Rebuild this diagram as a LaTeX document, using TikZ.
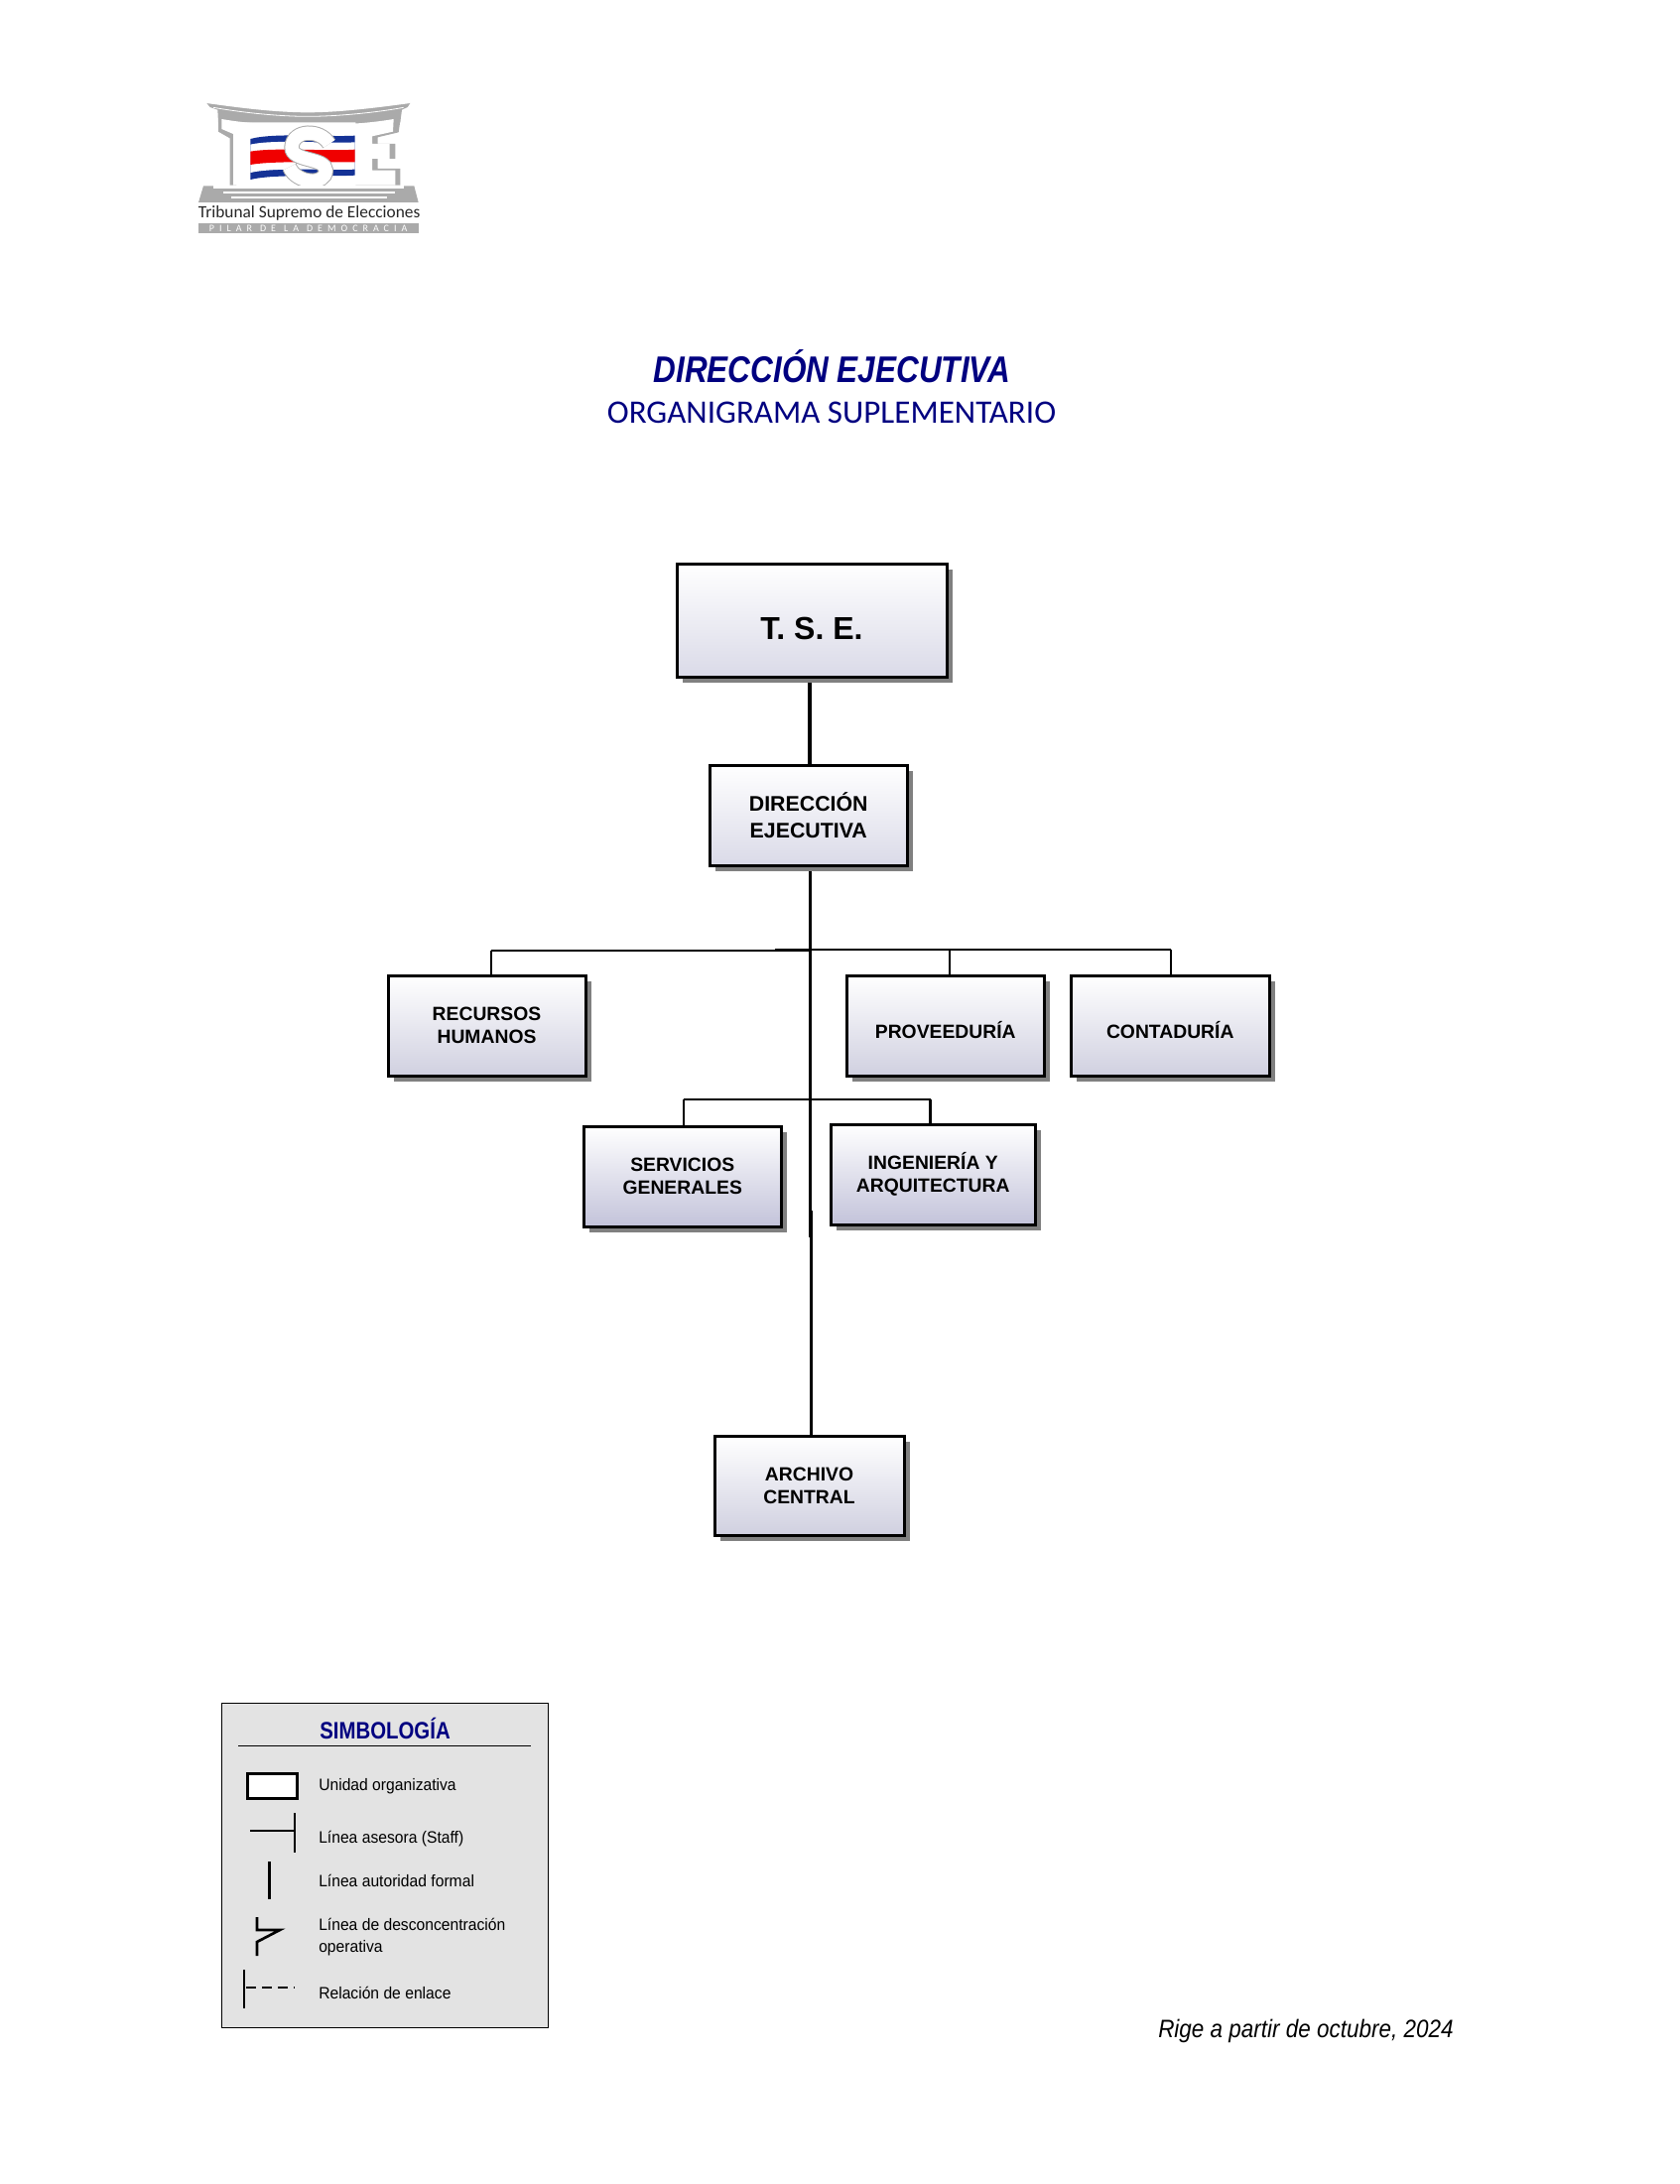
\documentclass[tikz,border=0pt]{standalone}
\usepackage{fontspec}
\setmainfont{Liberation Sans}
\newfontfamily\calfont{Carlito}
\usetikzlibrary{shadows,backgrounds}
\definecolor{titleblue}{RGB}{0,0,128}
\definecolor{legendgray}{RGB}{227,227,227}
\definecolor{shadowgray}{RGB}{128,128,128}
\definecolor{logogray}{RGB}{170,170,170}
\definecolor{flagblue}{RGB}{20,50,150}
\definecolor{flagred}{RGB}{240,0,0}
\definecolor{bottoma}{RGB}{218,218,232}
\definecolor{bottomb}{RGB}{208,208,224}
\definecolor{bottomc}{RGB}{195,195,218}
\tikzset{
  unitbox/.style={draw=black,line width=2.25pt,rectangle,inner sep=0pt,align=center,
    font=\bfseries\fontsize{14.5}{17}\selectfont,top color=white,
    general shadow={fill=shadowgray,shadow xshift=4.4pt,shadow yshift=-4.4pt}},
  conn/.style={draw=black,line width=2.2pt},
  thinconn/.style={draw=black,line width=1.8pt},
  legendtext/.style={anchor=west,inner sep=0pt,font=\fontsize{12.5}{16}\selectfont,align=left,xscale=0.94},
  legendsym/.style={draw=black,line width=2pt},
}
% \orgunit{name}{left}{top}{right}{bottom}{bottom colour}{extra}{text}
\newcommand{\orgunit}[8]{%
  \node[unitbox,bottom color=#6,minimum width={(#4-#2)*0.75pt},minimum height={(#5-#3)*0.75pt},#7]
    (#1) at ({(#2+#4)/2},{(#3+#5)/2}) {#8};}
\begin{document}
\begin{tikzpicture}[x=0.75pt,y=-0.75pt]
\useasboundingbox (0,0) rectangle (1692,2201);

% --- logo
\begin{scope}[shift={(170,80)},x=0.25pt,y=-0.25pt]
  % roof
  \fill[logogray] (115,72) -- (730,72) -- (722,84) -- (705,92) -- (700,130) -- (150,130) -- (148,92) -- (125,84) -- cycle;
  \fill[white] (115,60) -- (730,60) -- (730,72) .. controls (640,84) and (520,100) .. (420,100) .. controls (320,100) and (200,84) .. (115,72) -- cycle;
  \draw[white,line width=0.6pt] (135,85) .. controls (220,100) and (330,112) .. (420,112) .. controls (510,112) and (630,100) .. (710,85);
  % T, with its grey side
  \fill[logogray] (150,125) -- (205,125) -- (205,320) -- (185,320) -- (185,178) -- (150,158) -- cycle;
  % E, grey then white
  \fill[logogray] (565,125) -- (700,125) -- (695,160) -- (632,175) -- (632,195) -- (685,195) -- (685,240) -- (632,240) -- (632,270) -- (700,270) -- (700,320) -- (565,320) -- cycle;
  % white body
  \fill[white] (160,120) .. controls (250,136) and (340,138) .. (420,138) .. controls (510,138) and (600,134) .. (680,120)
     -- (678,158) -- (615,172) -- (615,195) -- (668,195) -- (668,240) -- (615,240) -- (615,275) -- (685,275) -- (685,320)
     -- (195,320) -- (195,165) -- (160,150) -- cycle;
  % flag
  \fill[flagblue] (247,180) .. controls (320,160) and (480,175) .. (563,170) -- (563,290) .. controls (480,295) and (320,285) .. (247,303) -- cycle;
  \fill[white] (247,197) .. controls (320,180) and (480,195) .. (563,190) -- (563,272) .. controls (480,275) and (320,265) .. (247,282) -- cycle;
  \fill[flagred] (247,218) .. controls (320,205) and (480,218) .. (563,212) -- (563,250) .. controls (480,252) and (320,245) .. (247,258) -- cycle;
  % big S
  \draw[logogray,line width=11.5pt] (485,195) .. controls (460,150) and (375,150) .. (372,205) .. controls (372,250) and (475,235) .. (475,275) .. controls (475,322) and (385,315) .. (365,265);
  \draw[white,line width=10pt] (485,195) .. controls (460,150) and (375,150) .. (372,205) .. controls (372,250) and (475,235) .. (475,275) .. controls (475,322) and (385,315) .. (365,265);
  % base
  \fill[logogray] (105,322) -- (742,322) -- (755,372) -- (90,372) -- cycle;
  \fill[white] (135,322) -- (712,322) -- (712,331) -- (135,331) -- cycle;
  \fill[white] (165,340) -- (685,340) -- (685,346) -- (165,346) -- cycle;
  \fill[white] (190,355) -- (660,355) -- (660,360) -- (190,360) -- cycle;
  \node[inner sep=0pt,font=\calfont\fontsize{13}{14}\selectfont,text=black!85] (logoname) at (425,404) {Tribunal Supremo de Elecciones};
  \fill[logogray] (90,434) rectangle (755,465);
  \node[inner sep=0pt,font=\calfont\fontsize{7.5}{8}\selectfont\addfontfeature{LetterSpace=50},text=white] (logomotto) at (422,450) {PILAR\hspace{6pt}DE\hspace{6pt}LA\hspace{6pt}DEMOCRACIA};
\end{scope}

% --- titles
\node[inner sep=0pt,text=titleblue,font=\bfseries\itshape\fontsize{28}{32}\selectfont,xscale=0.843] (title) at (838.5,369) {DIRECCIÓN EJECUTIVA};
\node[inner sep=0pt,text=titleblue,font=\calfont\fontsize{24.8}{28}\selectfont] (subtitle) at (838,416) {ORGANIGRAMA SUPLEMENTARIO};

% --- units
\orgunit{tse}{682}{568}{954}{682}{bottoma}{font=\bfseries\fontsize{24}{28}\selectfont,text height=29pt,text depth=0pt}{T. S. E.}
\orgunit{de}{715.5}{771}{914}{872}{bottoma}{font=\bfseries\fontsize{16}{20}\selectfont}{DIRECCIÓN\\EJECUTIVA}
\orgunit{rh}{391}{983}{590}{1084}{bottomb}{}{RECURSOS\\HUMANOS}
\orgunit{prov}{853.5}{983}{1052}{1084}{bottomb}{text height=20pt,text depth=0pt}{PROVEEDURÍA}
\orgunit{cont}{1079.5}{983}{1279}{1084}{bottomb}{text height=20pt,text depth=0pt}{CONTADURÍA}
\orgunit{sg}{588.5}{1135}{787}{1236}{bottomc}{}{SERVICIOS\\GENERALES}
\orgunit{ia}{837.5}{1133}{1043}{1234}{bottomc}{}{INGENIERÍA Y\\ARQUITECTURA}
\orgunit{arch}{720}{1447}{911}{1547}{bottomb}{}{ARCHIVO\\CENTRAL}

% --- connectors, under the boxes
\coordinate (trunktop) at (815.5,700);
\coordinate (trunk) at (816.5,900);
\coordinate (trunkb) at (817.5,1300);
\coordinate (lowstub) at (816.5,1247);
\coordinate (lowstart) at (817.5,1220);
\coordinate (hubl) at (818,958);
\coordinate (hubr) at (781,957);
\coordinate (rhdrop) at (495,958);
\coordinate (provdrop) at (957,957);
\coordinate (contdrop) at (1180,957);
\coordinate (sgdrop) at (689,1108);
\coordinate (iadrop) at (937.5,1108);
\begin{scope}[on background layer]
  \draw[conn,line width=3pt] (tse.south -| trunktop) -- (de.north -| trunktop);
  \draw[conn] (de.south -| trunk) -- (lowstub);
  \draw[conn] (lowstart) -- (arch.north -| trunkb);
  \draw[conn] (hubl) -- (rhdrop);
  \draw[thinconn] (rhdrop) -- (rhdrop |- rh.north);
  \draw[conn] (hubr) -- (contdrop);
  \draw[thinconn] (provdrop) -- (provdrop |- prov.north);
  \draw[thinconn] (contdrop) -- (contdrop |- cont.north);
  \draw[conn] (sgdrop) -- (iadrop);
  \draw[thinconn] (sgdrop) -- (sgdrop |- sg.north);
  \draw[thinconn] (iadrop) -- (iadrop |- ia.north);
\end{scope}

% --- legend
\node[draw=black,line width=0.75pt,fill=legendgray,minimum width=246.75pt,minimum height=245.5pt,inner sep=0pt,anchor=north west] (legend) at (223,1716) {};
\node[inner sep=0pt,text=titleblue,font=\bfseries\fontsize{18}{20}\selectfont,xscale=0.85] (legendtitle) at (388,1742) {SIMBOLOGÍA};
\draw[black,line width=0.75pt] (240,1759) -- (535,1759);
\node[draw=black,line width=2.25pt,fill=white,minimum width=37.5pt,minimum height=19pt,inner sep=0pt] (symunit) at (274,1800) {};
\draw[legendsym] (252,1845) -- (297,1845);
\draw[legendsym] (297,1827) -- (297,1867);
\draw[legendsym] (271.5,1876) -- (271.5,1914);
\draw[legendsym,miter limit=10] (259,1932) -- (259,1945) -- (282,1945) -- (259,1957) -- (259,1971);
\draw[legendsym] (246,1985) -- (246,2024);
\draw[legendsym,dash pattern=on 7.5pt off 4.5pt] (248,2003) -- (297,2003);
\node[legendtext] (t1) at (321,1800) {Unidad organizativa};
\node[legendtext] (t2) at (321,1853) {Línea asesora (Staff)};
\node[legendtext] (t3) at (321,1895) {Línea autoridad formal};
\node[legendtext] (t4) at (321,1952) {Línea de desconcentración\\operativa};
\node[legendtext] (t5) at (321,2008) {Relación de enlace};

\node[inner sep=0pt,font=\itshape\fontsize{19}{22}\selectfont,anchor=west,xscale=0.887] (rige) at (1167,2047) {Rige a partir de octubre, 2024};
\end{tikzpicture}
\end{document}
